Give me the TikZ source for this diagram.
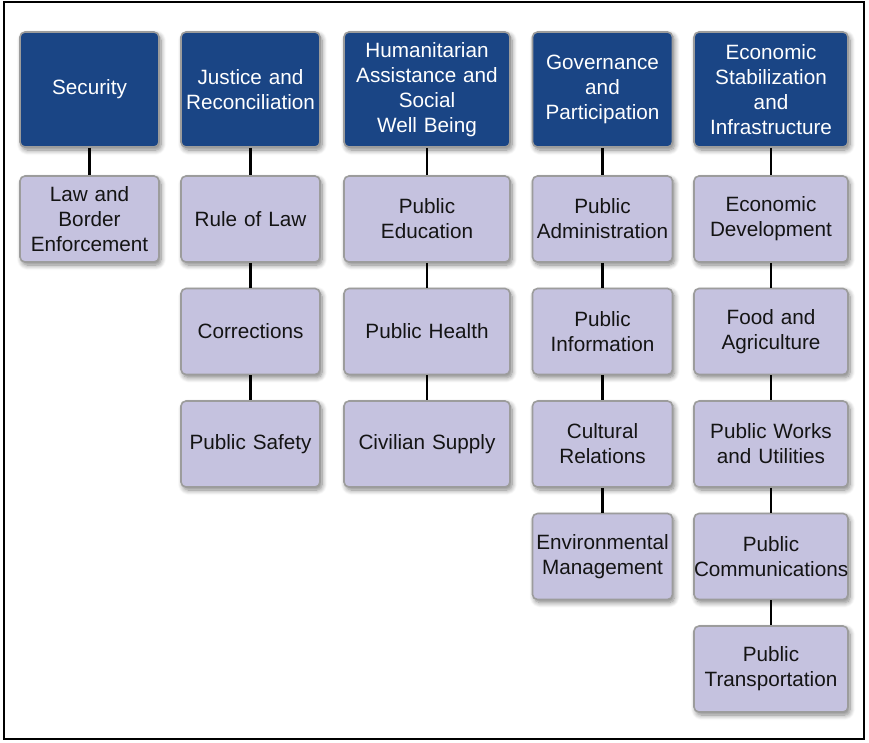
\documentclass[tikz,border=0pt]{standalone}
\usepackage{fontspec}
\setmainfont{Liberation Sans}
\usetikzlibrary{shadows.blur}
\definecolor{hdrblue}{HTML}{1A4585}
\definecolor{sublav}{HTML}{C5C2DF}
\definecolor{boxedge}{HTML}{9C9C9C}
\definecolor{subtext}{HTML}{141414}
\tikzset{
  basebox/.style={rectangle, rounded corners=5pt, draw=boxedge, line width=1.6pt,
    align=center, inner sep=0pt, font=\fontsize{20.7}{25}\selectfont,
    blur shadow={shadow xshift=2pt, shadow yshift=-3pt, shadow blur steps=8, shadow blur radius=5pt, shadow opacity=50}},
  hdrbox/.style={basebox, fill=hdrblue, text=white, minimum height=115pt},
  subbox/.style={basebox, fill=sublav, text=subtext, minimum height=86pt},
  link/.style={draw=black, line width=2.6pt},
  wA/.style={text width=139pt},
  wB/.style={text width=139pt},
  wC/.style={text width=166pt},
  wD/.style={text width=140pt},
  wE/.style={text width=154pt}
}
\begin{document}
\begin{tikzpicture}[x=1pt,y=-1pt]
\useasboundingbox (0,0) rectangle (869,742);
\draw[line width=2pt, black] (4,2) rectangle (864,739);

% headers
\node[hdrbox, wA] (h1) at (89.5,89.5) {Security};
\node[hdrbox, wB] (h2) at (250.5,89.5) {Justice and\\Reconciliation};
\node[hdrbox, wC] (h3) at (427,89.5) {Humanitarian\\Assistance and\\Social\\Well Being};
\node[hdrbox, wD] (h4) at (602.5,89.5) {Governance\\and\\Participation};
\node[hdrbox, wE] (h5) at (771,89.5) {Economic\\Stabilization\\and\\Infrastructure};

% column 1
\node[subbox, wA] (a1) at (89.5,219) {Law and\\Border\\Enforcement};
% column 2
\node[subbox, wB] (b1) at (250.5,219) {Rule of Law};
\node[subbox, wB] (b2) at (250.5,331.5) {Corrections};
\node[subbox, wB] (b3) at (250.5,444) {Public Safety};
% column 3
\node[subbox, wC] (c1) at (427,219) {Public\\Education};
\node[subbox, wC] (c2) at (427,331.5) {Public Health};
\node[subbox, wC] (c3) at (427,444) {Civilian Supply};
% column 4
\node[subbox, wD] (d1) at (602.5,219) {Public\\Administration};
\node[subbox, wD] (d2) at (602.5,331.5) {Public\\Information};
\node[subbox, wD] (d3) at (602.5,444) {Cultural\\Relations};
\node[subbox, wD] (d4) at (602.5,556.5) {Environmental\\Management};
% column 5
\node[subbox, wE] (e1) at (771,219) {Economic\\Development};
\node[subbox, wE] (e2) at (771,331.5) {Food and\\Agriculture};
\node[subbox, wE] (e3) at (771,444) {Public Works\\and Utilities};
\node[subbox, wE] (e4) at (771,556.5) {Public\\Communications};
\node[subbox, wE] (e5) at (771,669) {Public\\Transportation};

% connectors
\draw[link] (h1) -- (a1);
\draw[link] (h2) -- (b1);
\draw[link] (b1) -- (b2);
\draw[link] (b2) -- (b3);
\draw[link] (h3) -- (c1);
\draw[link] (c1) -- (c2);
\draw[link] (c2) -- (c3);
\draw[link] (h4) -- (d1);
\draw[link] (d1) -- (d2);
\draw[link] (d2) -- (d3);
\draw[link] (d3) -- (d4);
\draw[link] (h5) -- (e1);
\draw[link] (e1) -- (e2);
\draw[link] (e2) -- (e3);
\draw[link] (e3) -- (e4);
\draw[link] (e4) -- (e5);
\end{tikzpicture}
\end{document}
